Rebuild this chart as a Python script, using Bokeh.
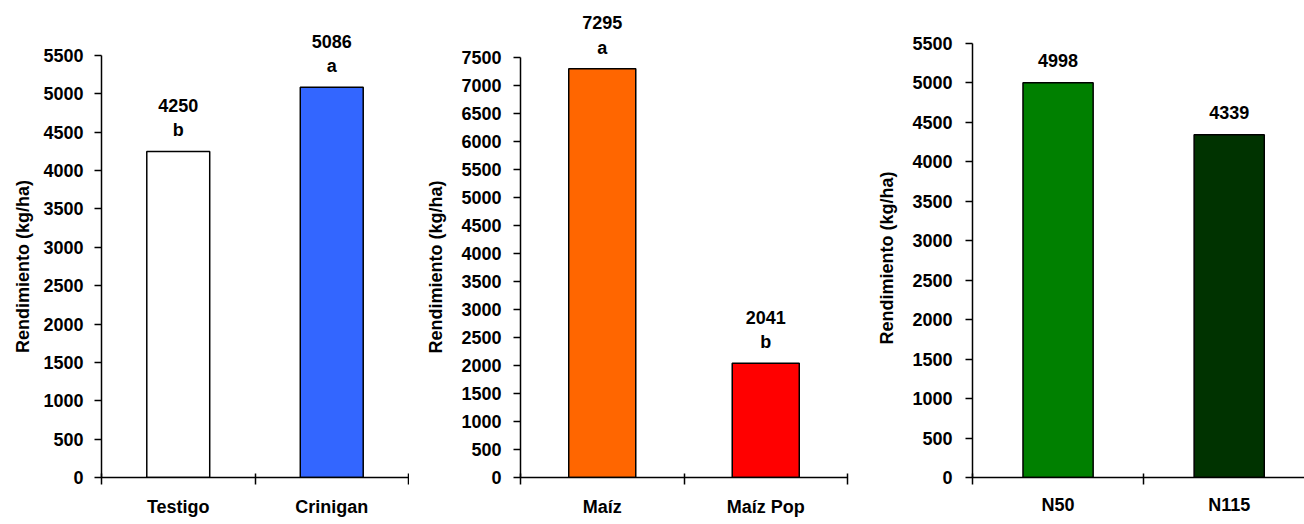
from bokeh.plotting import figure
from bokeh.models import Range1d, FixedTicker, LabelSet, ColumnDataSource, Title
from bokeh.layouts import row
from bokeh.core.properties import value
from bokeh.embed import file_html
from bokeh.resources import INLINE

# ---- data ----
cats1 = ["Testigo", "Crinigan"]
vals1 = [4250, 5086]
letters1 = ["b", "a"]
colors1 = ["#FFFFFF", "#3366FF"]
yticks1 = [0, 500, 1000, 1500, 2000, 2500, 3000, 3500, 4000, 4500, 5000, 5500]

cats2 = ["Maíz", "Maíz Pop"]
vals2 = [7295, 2041]
letters2 = ["a", "b"]
colors2 = ["#FF6600", "#FF0000"]
yticks2 = [0, 500, 1000, 1500, 2000, 2500, 3000, 3500, 4000, 4500, 5000,
           5500, 6000, 6500, 7000, 7500]

cats3 = ["N50", "N115"]
vals3 = [4998, 4339]
colors3 = ["#008000", "#003300"]
yticks3 = [0, 500, 1000, 1500, 2000, 2500, 3000, 3500, 4000, 4500, 5000, 5500]

ytitle = "Rendimiento (kg/ha)"
FONT = "Liberation Sans"
FS = "18px"
TITLE_LEN = 173  # approx. rendered length of the y title in px


def panel(cats, vals, colors, letters, yticks, width, height, left, right,
          axis_top, bottom, xend, tick_standoff, title_standoff, xlab_standoff):
    n = len(cats)
    xs = [2 * i + 1 for i in range(n)]
    bounds = [2 * i for i in range(n + 1)]
    frame_h = height - bottom
    axis_h = frame_h - axis_top
    ytop = yticks[-1] * frame_h / axis_h   # frame reaches the top of the figure
    p = figure(width=width, height=height, output_backend="svg",
               toolbar_location=None,
               x_range=Range1d(0, xend), y_range=Range1d(0, ytop),
               min_border_left=left, min_border_right=right,
               min_border_top=0, min_border_bottom=bottom)
    p.outline_line_color = None
    p.xgrid.grid_line_color = None
    p.ygrid.grid_line_color = None
    p.background_fill_color = "white"
    p.border_fill_color = "white"

    p.vbar(x=xs, top=vals, width=0.82, fill_color=colors,
           line_color="black", line_width=1.5)

    src = ColumnDataSource(dict(x=xs, y=vals, num=[str(v) for v in vals],
                                let=letters if letters else [""] * n))
    common = dict(text_align="center", text_baseline="middle",
                  text_font=value(FONT), text_font_style="bold",
                  text_font_size=value(FS), text_color="black")
    p.add_layout(LabelSet(x="x", y="y", text="num", source=src,
                          y_offset=46 if letters else 22, **common))
    if letters:
        p.add_layout(LabelSet(x="x", y="y", text="let", source=src,
                              y_offset=21, **common))

    # y axis (drawn only from 0 to the last tick)
    ya = p.yaxis[0]
    ya.bounds = (yticks[0], yticks[-1])
    ya.ticker = FixedTicker(ticks=yticks)
    ya.minor_tick_line_color = None
    ya.minor_tick_in = 0
    ya.minor_tick_out = 0
    ya.major_tick_in = 0
    ya.major_tick_out = 7
    ya.major_tick_line_width = 1.5
    ya.axis_line_width = 1.5
    ya.axis_line_color = "black"
    ya.major_tick_line_color = "black"
    ya.major_label_standoff = tick_standoff
    ya.major_label_text_font = FONT
    ya.major_label_text_font_style = "bold"
    ya.major_label_text_font_size = FS
    ya.major_label_text_color = "black"

    # y-axis title, centred on the drawn part of the axis
    off = frame_h - (axis_top + axis_h / 2) - TITLE_LEN / 2
    p.add_layout(Title(text=ytitle, align="left", offset=off,
                       standoff=title_standoff, text_font=FONT,
                       text_font_style="bold", text_font_size=FS,
                       text_color="black"), "left")

    # x axis: labels at category centres, ticks at category boundaries
    xa = p.xaxis[0]
    xa.ticker = FixedTicker(ticks=xs, minor_ticks=bounds)
    xa.major_label_overrides = {x: c for x, c in zip(xs, cats)}
    xa.major_tick_line_color = None
    xa.major_tick_in = 0
    xa.major_tick_out = 0
    xa.minor_tick_in = 4
    xa.minor_tick_out = 7
    xa.minor_tick_line_width = 1.5
    xa.minor_tick_line_color = "black"
    xa.axis_line_width = 1.5
    xa.axis_line_color = "black"
    xa.major_label_standoff = xlab_standoff
    xa.major_label_text_font = FONT
    xa.major_label_text_font_style = "bold"
    xa.major_label_text_font_size = FS
    xa.major_label_text_color = "black"
    return p


H = 520
p1 = panel(cats1, vals1, colors1, letters1, yticks1, 409, H,
           101, 1, 55, 43, 4, 11, 16, 12)
p2 = panel(cats2, vals2, colors2, letters2, yticks2, 451, H,
           111, 13, 57, 42, 4, 12, 26, 12)
p3 = panel(cats3, vals3, colors3, None, yticks3, 444, H,
           112, 0, 43, 38, 3.88, 13, 26, 10)

layout = row(p1, p2, p3)
open("out.html", "w").write(file_html(layout, INLINE))
